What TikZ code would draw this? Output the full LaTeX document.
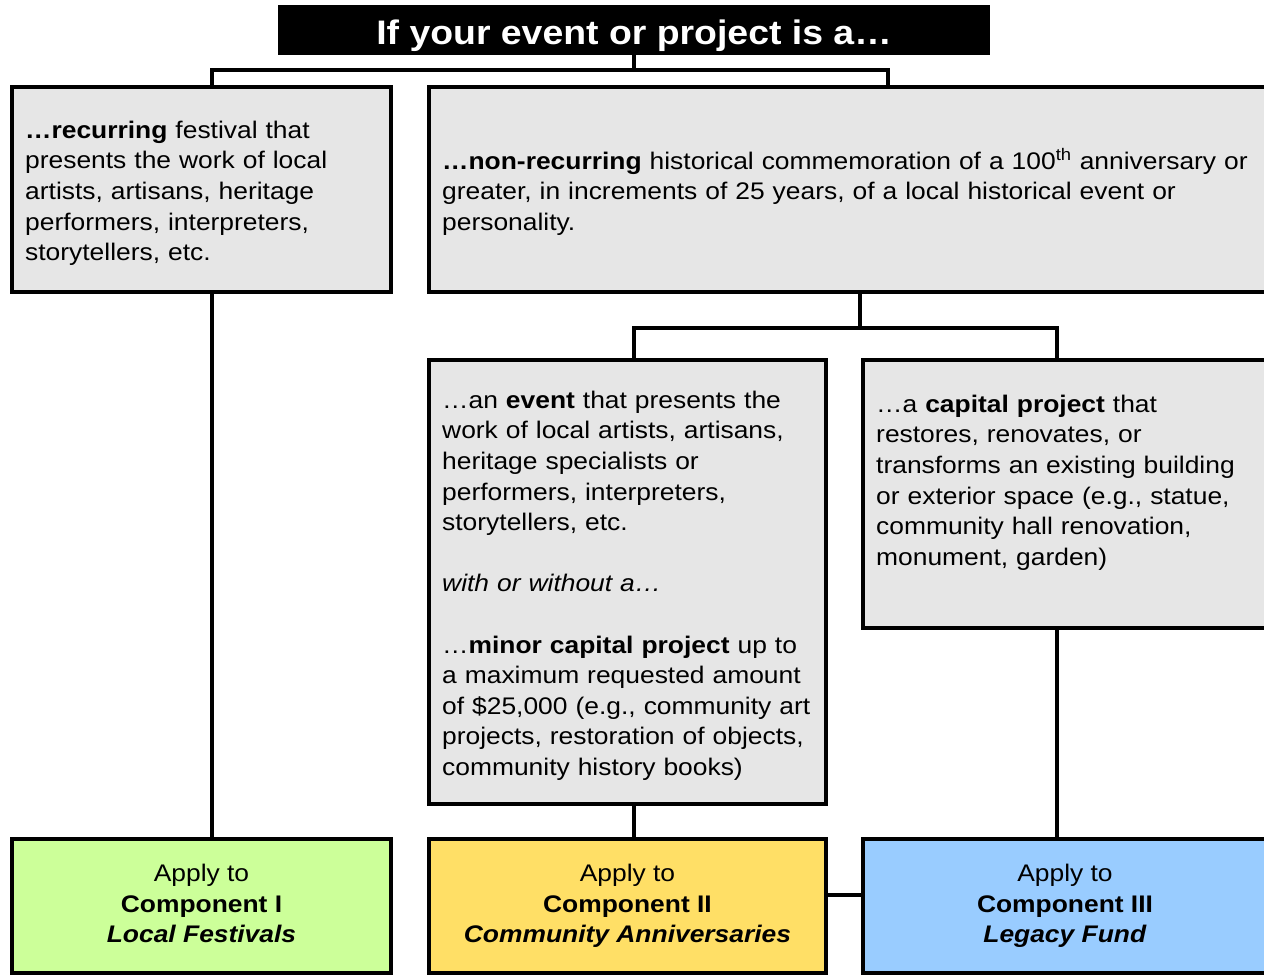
\documentclass[tikz,border=0pt]{standalone}
\usepackage{fontspec}
\setmainfont{Liberation Sans}[FakeStretch=1.1]
\newcommand\bodysize{\fontsize{24}{30.6}\selectfont}
\newcommand\titlesize{\fontsize{34}{40}\selectfont}
\definecolor{boxgray}{HTML}{E6E6E6}
\definecolor{cgreen}{HTML}{CCFF99}
\definecolor{cyellow}{HTML}{FFDF66}
\definecolor{cblue}{HTML}{99CCFF}
\tikzset{
  conn/.style={line width=4pt, line join=miter},
  box/.style={draw, line width=4pt, outer sep=0pt, inner sep=0pt, anchor=north west},
  txt/.style={anchor=north west, inner sep=0pt, align=left, text width=830pt, font=\bodysize},
  comp/.style={box, font=\bodysize, align=center}
}
\begin{document}
\begin{tikzpicture}[x=1pt, y=-1pt]
\useasboundingbox (0,0) rectangle (1264,977);
\fill[white] (0,0) rectangle (1264,977);
\begin{scope}
\clip (0,0) rectangle (1264,977);
% title
\node[fill=black, text=white, outer sep=0pt, inner sep=0pt, minimum width=712pt, minimum height=50pt, text height=28pt, text depth=0pt, anchor=north west, font=\titlesize\bfseries] (title) at (278,5) {If your event or project is a…};
% gray boxes
\node[box, fill=boxgray, minimum width=379pt, minimum height=205pt] (A) at (12,87) {};
\node[box, fill=boxgray, minimum width=838pt, minimum height=205pt] (B) at (429,87) {};
\node[box, fill=boxgray, minimum width=397pt, minimum height=444pt] (C) at (429,360) {};
\node[box, fill=boxgray, minimum width=404pt, minimum height=268pt] (D) at (863,360) {};
% texts
\node[txt] (At) at (25,116.6) {\strut\textbf{…recurring} festival that\\presents the work of local\\artists, artisans, heritage\\performers, interpreters,\\storytellers, etc.};
\node[txt] (Bt) at (442,147.6) {\strut\textbf{…non-recurring} historical commemoration of a 100\textsuperscript{th} anniversary or\\greater, in increments of 25 years, of a local historical event or\\personality.};
\node[txt] (Ct) at (442,386.6) {\strut…an \textbf{event} that presents the\\work of local artists, artisans,\\heritage specialists or\\performers, interpreters,\\storytellers, etc.\\[30.6pt]\textit{with or without a…}\\[30.6pt]…\textbf{minor capital project} up to\\a maximum requested amount\\of \$25,000 (e.g., community art\\projects, restoration of objects,\\community history books)};
\node[txt] (Dt) at (876,390.6) {\strut…a \textbf{capital project} that\\restores, renovates, or\\transforms an existing building\\or exterior space (e.g., statue,\\community hall renovation,\\monument, garden)};
% component boxes
\node[comp, fill=cgreen, minimum width=379pt, minimum height=134pt] (E) at (12,839) {\strut Apply to\\\textbf{Component I}\\\textbf{\textit{Local Festivals}}\strut};
\node[comp, fill=cyellow, minimum width=397pt, minimum height=134pt] (F) at (429,839) {\strut Apply to\\\textbf{Component II}\\\textbf{\textit{Community Anniversaries}}\strut};
\node[comp, fill=cblue, minimum width=404pt, minimum height=134pt] (G) at (863,839) {\strut Apply to\\\textbf{Component III}\\\textbf{\textit{Legacy Fund}}\strut};
% junctions
\coordinate (j1) at (634,70);
\coordinate (j2) at (860,328);
% connectors
\draw[conn] (title.south) -- (j1);
\draw[conn] ([xshift=10.5pt]A.north) |- (j1) -| ([xshift=40pt]B.north);
\draw[conn] ([xshift=12pt]B.south) -- (j2);
\draw[conn] ([xshift=6.5pt]C.north) |- (j2) -| ([xshift=-8pt]D.north);
\draw[conn] ([xshift=10.5pt]A.south) -- ([xshift=10.5pt]E.north);
\draw[conn] ([xshift=6.5pt]C.south) -- ([xshift=6.5pt]F.north);
\draw[conn] ([xshift=-8pt]D.south) -- ([xshift=-8pt]G.north);
\draw[conn] ([yshift=11pt]F.east) -- ([yshift=11pt]G.west);
\end{scope}
\end{tikzpicture}
\end{document}
